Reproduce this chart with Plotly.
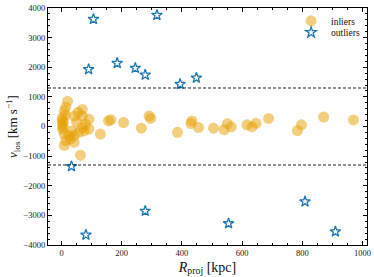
import plotly.graph_objects as go

inlier_r = [20, 14, 9, 3, 3, 3, 9, 42, 69, 69, 91, 80, 69, 91, 58, 42, 30, 14, 9, 42, 63,
            2, 5, 6, 12, 25, 35, 50, 55, 75,
            129, 156, 164, 206, 265, 291, 296, 385, 430, 433, 455, 505, 540, 551, 564,
            616, 633, 646, 688, 784, 797, 871, 970]
inlier_v = [850, 651, 519, 298, 76, -89, -255, 354, 572, 354, 241, 76, -33, -89, -198, -307, -420, -473, -638, -529, -969,
            200, -10, 150, 380, -300, -150, 150, 480, -150,
            -255, 188, 230, 132, -56, 354, 274, -198, 99, 188, -33, -56, -109, 99, -10,
            56, -10, 109, 274, -142, 56, 321, 221]

outlier_r = [106, 90, 185, 245, 278, 317, 394, 448, 33, 81, 278, 555, 809, 910]
outlier_v = [3626, 1928, 2138, 1973, 1742, 3758, 1432, 1642, -1345, -3659, -2853, -3273, -2535, -3548]

cut = 1300

fig = go.Figure()
fig.add_trace(go.Scatter(
    x=inlier_r, y=inlier_v, mode="markers", name="inliers", legend="legend",
    marker=dict(symbol="circle", size=11, color="#E69F00", opacity=0.5, line=dict(width=0)),
))
fig.add_trace(go.Scatter(
    x=outlier_r, y=outlier_v, mode="markers", name="outliers", legend="legend2",
    marker=dict(symbol="star-open", size=8, color="#1f77b4", line=dict(width=1.3, color="#1f77b4")),
))
for yv in (cut, -cut):
    fig.add_shape(type="line", xref="paper", x0=0, x1=1, yref="y", y0=yv, y1=yv,
                  line=dict(color="#222", width=1, dash="3px,2px"))

font = "Liberation Serif"
axis_common = dict(
    showgrid=False, zeroline=False, showline=True, linecolor="black", linewidth=1,
    mirror="allticks", ticks="inside", ticklen=4, tickwidth=1, tickcolor="black",
    tickfont=dict(family=font, size=8.5, color="#222"), ticklabeloverflow="allow",
)
fig.update_xaxes(range=[-45, 1015], dtick=200, tick0=0,
                 minor=dict(dtick=50, ticks="inside", ticklen=2, tickcolor="black"),
                 title=dict(text="<i>R</i><sub>proj</sub> [kpc]", font=dict(family=font, size=14, color="#111"), standoff=4),
                 **axis_common)
fig.update_yaxes(range=[-4000, 4000], dtick=1000, tick0=0,
                 minor=dict(dtick=200, ticks="inside", ticklen=2, tickcolor="black"),
                 title=dict(text="<i>v</i><sub>los</sub> [km s<sup>−1</sup>]", font=dict(family=font, size=13, color="#111"), standoff=2),
                 **axis_common)
leg_common = dict(xanchor="left", yanchor="middle", bgcolor="rgba(0,0,0,0)",
                  font=dict(family=font, size=9.5, color="#111"), itemwidth=30)
fig.update_layout(
    width=374, height=277,
    margin=dict(l=48, r=3, t=3, b=32),
    paper_bgcolor="white", plot_bgcolor="white",
    font=dict(family=font),
    legend=dict(x=0.762, y=0.946, **leg_common),
    legend2=dict(x=0.762, y=0.897, **leg_common),
    showlegend=True,
)
fig.write_html("out.html", config={"displayModeBar": False},
               post_script="document.body.style.margin='0';document.body.style.padding='0';")
